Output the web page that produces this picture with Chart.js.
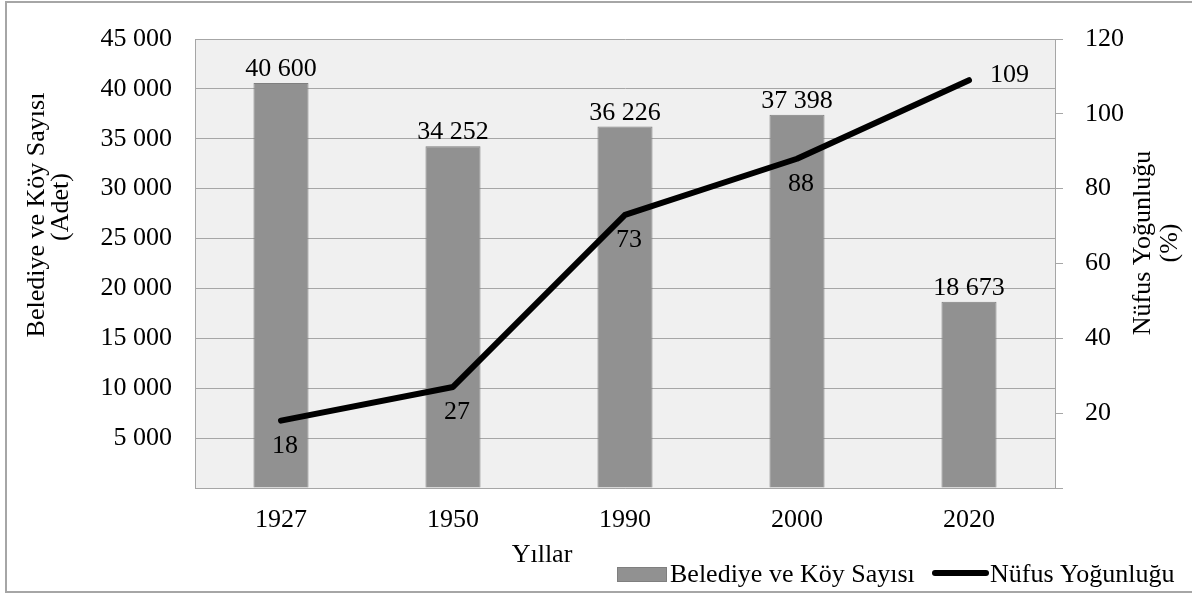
<!DOCTYPE html>
<html>
<head>
<meta charset="utf-8">
<script src="https://cdn.jsdelivr.net/npm/chart.js@4/dist/chart.umd.min.js"></script>
<style>
  body { margin: 0; background: #fff; }
  #wrap { width: 1192px; height: 594px; position: relative; }
</style>
</head>
<body>
<div id="wrap"><canvas id="myChart"></canvas></div>
<script>
// data
var yillar = ['1927', '1950', '1990', '2000', '2020'];
var belediyeKoy = [40600, 34252, 36226, 37398, 18673];
var nufusYogunlugu = [18, 27, 73, 88, 109];

var FONT = "'Liberation Serif', 'Times New Roman', serif";
var FS = 26;

function binlik(v) {
    return String(v).replace(/\B(?=(\d{3})+(?!\d))/g, ' ');
}

var ekstra = {
    id: 'ekstra',
    beforeDraw: function (chart) {
        var c = chart.ctx, a = chart.chartArea;
        c.save();
        c.fillStyle = '#f0f0f0';
        c.fillRect(a.left, a.top, a.right - a.left, a.bottom - a.top);
        c.restore();
    },
    afterDraw: function (chart) {
        var c = chart.ctx;
        c.save();
        c.fillStyle = '#000';
        c.font = FS + 'px ' + FONT;

        // bar labels
        var barMeta = chart.getDatasetMeta(1);
        c.textAlign = 'center';
        c.textBaseline = 'alphabetic';
        barMeta.data.forEach(function (el, i) {
            c.fillText(binlik(belediyeKoy[i]), el.x, el.y - 7);
        });

        // line labels
        var lineMeta = chart.getDatasetMeta(0);
        lineMeta.data.forEach(function (el, i) {
            if (i === lineMeta.data.length - 1) {
                c.textAlign = 'left';
                c.fillText(String(nufusYogunlugu[i]), el.x + 21, el.y + 2);
            } else {
                c.textAlign = 'center';
                c.fillText(String(nufusYogunlugu[i]), el.x + 4, el.y + 32);
            }
        });

        // axis titles
        c.textAlign = 'center';
        c.save();
        c.translate(44, 215);
        c.rotate(-Math.PI / 2);
        c.fillText('Belediye ve Köy Sayısı', 0, 0);
        c.restore();
        c.save();
        c.translate(68, 207);
        c.rotate(-Math.PI / 2);
        c.fillText('(Adet)', 0, 0);
        c.restore();
        c.save();
        c.translate(1150, 243);
        c.rotate(-Math.PI / 2);
        c.fillText('Nüfus Yoğunluğu', 0, 0);
        c.restore();
        c.save();
        c.translate(1177, 243);
        c.rotate(-Math.PI / 2);
        c.fillText('(%)', 0, 0);
        c.restore();
        c.fillText('Yıllar', 542, 562);

        // legend
        c.fillStyle = '#919191';
        c.fillRect(617, 567, 50, 15);
        c.strokeStyle = '#7f7f7f';
        c.lineWidth = 1;
        c.strokeRect(617.5, 567.5, 49, 14);
        c.fillStyle = '#000';
        c.textAlign = 'left';
        c.fillText('Belediye ve Köy Sayısı', 670, 582);
        c.strokeStyle = '#000';
        c.lineWidth = 6;
        c.lineCap = 'round';
        c.beginPath();
        c.moveTo(935, 573);
        c.lineTo(986, 573);
        c.stroke();
        c.fillText('Nüfus Yoğunluğu', 990, 582);

        // outer frame
        c.strokeStyle = '#a6a6a6';
        c.lineWidth = 2;
        c.lineCap = 'butt';
        c.strokeRect(6, 2, 1200, 590);
        c.restore();
    }
};

var ctx = document.getElementById('myChart').getContext('2d');
var chart = new Chart(ctx, {
    type: 'bar',
    data: {
        labels: yillar,
        datasets: [{
            type: 'line',
            label: 'Nüfus Yoğunluğu',
            data: nufusYogunlugu,
            yAxisID: 'y1',
            borderColor: '#000',
            borderWidth: 6,
            borderCapStyle: 'round',
            borderJoinStyle: 'round',
            pointRadius: 0,
            tension: 0,
            order: 0
        }, {
            label: 'Belediye ve Köy Sayısı',
            data: belediyeKoy,
            yAxisID: 'y',
            backgroundColor: '#919191',
            borderColor: '#7f7f7f',
            borderWidth: 1,
            categoryPercentage: 1,
            barPercentage: 0.32,
            order: 1
        }]
    },
    options: {
        responsive: true,
        maintainAspectRatio: false,
        animation: false,
        layout: { padding: { top: 39, left: 0, right: 0, bottom: 0 } },
        plugins: {
            legend: { display: false },
            tooltip: { enabled: false }
        },
        scales: {
            x: {
                grid: { display: false },
                border: { color: '#a6a6a6', width: 1 },
                ticks: { color: '#000', font: { family: FONT, size: FS }, padding: 9, maxRotation: 0 },
                afterFit: function (s) { s.height = 106; }
            },
            y: {
                position: 'left',
                min: 0,
                max: 45000,
                ticks: {
                    stepSize: 5000,
                    color: '#000',
                    font: { family: FONT, size: FS },
                    padding: 23,
                    callback: function (v) { return v === 0 ? '' : binlik(v); }
                },
                grid: { color: '#a6a6a6', lineWidth: 1, drawTicks: false },
                border: { color: '#a6a6a6', width: 1 },
                afterFit: function (s) { s.width = 195; }
            },
            y1: {
                position: 'right',
                min: 0,
                max: 120,
                ticks: {
                    stepSize: 20,
                    color: '#000',
                    font: { family: FONT, size: FS },
                    padding: 22,
                    callback: function (v) { return v === 0 ? '' : String(v); }
                },
                grid: { drawOnChartArea: false, drawTicks: true, tickLength: 8, color: '#a6a6a6' },
                border: { color: '#a6a6a6', width: 1 },
                afterFit: function (s) { s.width = 137; }
            }
        }
    },
    plugins: [ekstra]
});
</script>
</body>
</html>
